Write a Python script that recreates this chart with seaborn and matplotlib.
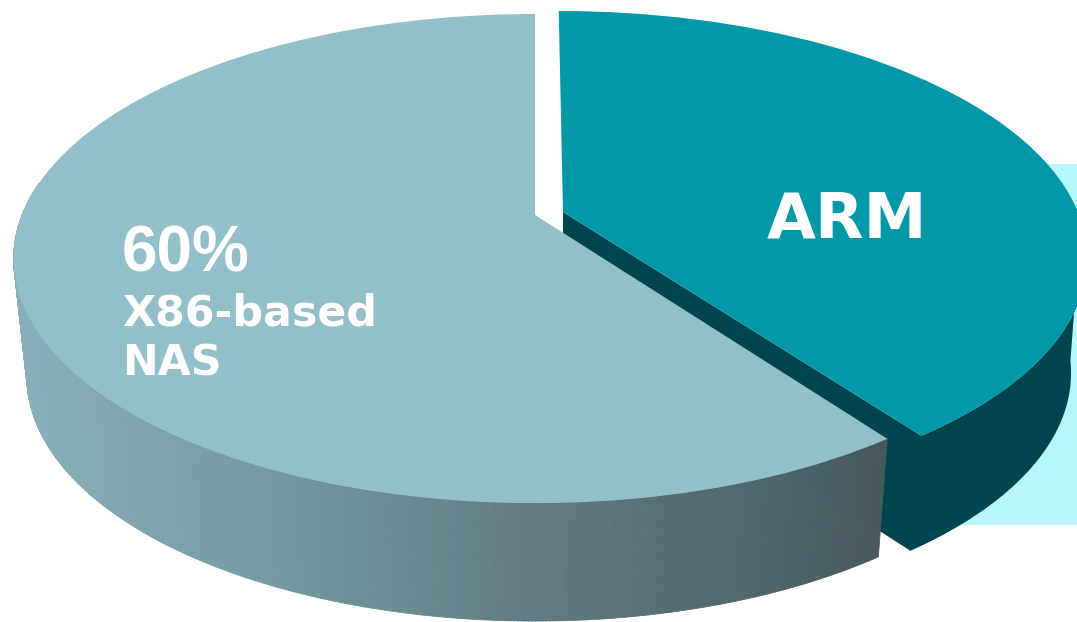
import numpy as np
import matplotlib
matplotlib.use('Agg')
import matplotlib.pyplot as plt
import seaborn as sns
from matplotlib.collections import PolyCollection
from matplotlib.patches import Polygon, Rectangle
from matplotlib.transforms import Transform

shares = [60, 40]
slice_colors = ['#93BFC8', '#0097A7']
big_label = '60%'
big_sublabels = ['X86-based', 'NAS']
small_label = 'ARM'

wall_colors = ['#88B0B8', '#71959C', '#5B757B', '#465A5E']
dark_wall = '#00454D'
backdrop = '#B8F6FD'

BIG = dict(xc=535, yc=215, b=513, a=236.8, shear=0)
SMALL = dict(xc=563, yc=212, b=515, a=236.8, shear=-5)
BIG_DROP = dict(depth=118, narrow=13)
SMALL_DROP = dict(depth=115, narrow=16)
TILT = 0.178


def project(u, v, xc, yc, b, a, shear):
    # perspective view of the flat pie, the far side is squeezed
    w = 1 + TILT * v
    return xc + (b * u + shear * v) / w, yc - a * v / w


class PieView(Transform):
    input_dims = 2
    output_dims = 2
    is_separable = False

    def __init__(self, **params):
        super().__init__()
        self.params = params

    def transform_non_affine(self, values):
        x, y = project(values[:, 0], values[:, 1], **self.params)
        return np.column_stack([x, y])


def rim(theta_deg, params, drop=None):
    t = np.radians(theta_deg)
    p = dict(params)
    if drop:
        p['b'] = p['b'] - drop['narrow']
        p['yc'] = p['yc'] + drop['depth']
    return project(np.cos(t), np.sin(t), **p)


def gradient_wall(ax, theta1, theta2, params, drop, palette):
    thetas = np.linspace(theta1, theta2, 400)
    tx, ty = rim(thetas, params)
    bx, by = rim(thetas, params, drop)
    # colour follows the horizontal position, not the angle
    pos = (tx[:-1] - tx.min()) / (tx.max() - tx.min())
    idx = np.minimum((pos * len(palette)).astype(int), len(palette) - 1)
    colors = [palette[i] for i in idx]
    quads = [[(tx[i], ty[i]), (tx[i + 1], ty[i + 1]), (bx[i + 1], by[i + 1]), (bx[i], by[i])]
             for i in range(len(thetas) - 1)]
    ax.add_collection(PolyCollection(quads, facecolors=colors, edgecolors=colors,
                                     linewidths=0.6, zorder=3))


sns.set_theme(style='white')
plt.rcParams['font.family'] = ['DejaVu Sans']

fig = plt.figure(figsize=(10.77, 6.22), dpi=100)
ax = fig.add_axes([0, 0, 1, 1])

wedges, _ = ax.pie(shares, colors=slice_colors, startangle=90, counterclock=True, radius=1)
big, arm = wedges

ax.set_aspect('auto')
ax.set_xlim(0, 1077)
ax.set_ylim(622, 0)
ax.axis('off')

big.set_transform(PieView(**BIG) + ax.transData)
arm.set_transform(PieView(**SMALL) + ax.transData)
big.set_zorder(5)
arm.set_zorder(6)
big.set_linewidth(0)
arm.set_linewidth(0)

ax.add_patch(Rectangle((900, 164), 177, 361, color=backdrop, lw=0, zorder=1))

# ARM side wall and the cut face towards the big slice, one shape so no seam shows
# lower rim stops earlier so the outer edge runs almost straight down at the right
ux, uy = rim(np.linspace(arm.theta1, 358, 200), SMALL)
lx, ly = rim(np.linspace(arm.theta1, 352, 200), SMALL, SMALL_DROP)
apex = (SMALL['xc'], SMALL['yc'])
outline = [apex] + list(zip(ux, uy)) + list(zip(lx[::-1], ly[::-1]))
outline.append((apex[0], apex[1] + SMALL_DROP['depth']))
ax.add_patch(Polygon(outline, color=dark_wall, lw=0, zorder=2))

# big slice side wall, light on the left and dark at the cut
gradient_wall(ax, 172, big.theta2, BIG, BIG_DROP, sns.blend_palette(wall_colors, 220))

ax.text(767, 238, small_label, color='white', fontsize=45.5, fontweight='bold',
        va='baseline', zorder=8)
ax.text(122, 272, big_label, color='white', fontsize=46, fontweight='bold',
        family='Liberation Sans', va='baseline', zorder=8)
ax.text(122, 325, big_sublabels[0], color='white', fontsize=30.8, fontweight='bold',
        va='baseline', zorder=8)
ax.text(122, 376, big_sublabels[1], color='white', fontsize=30.8, fontweight='bold',
        va='baseline', zorder=8)

fig.savefig('out.png', dpi=100)
plt.close(fig)
